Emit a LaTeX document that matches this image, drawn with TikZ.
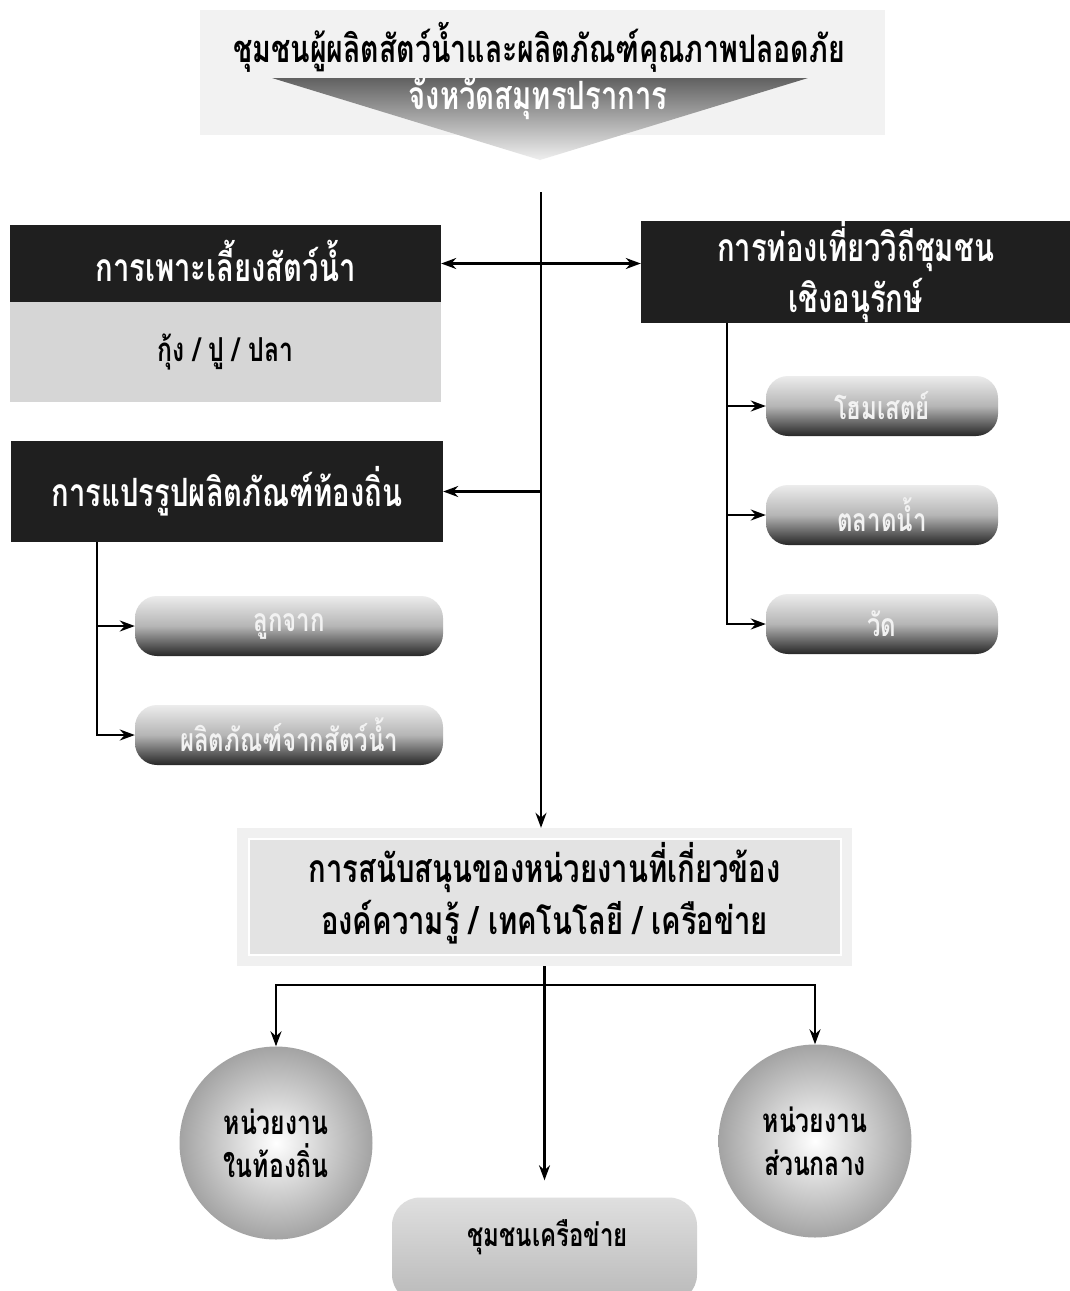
\documentclass[tikz,border=0pt]{standalone}
\usepackage{fontspec}
\newfontfamily\thf[Script=Thai,FakeStretch=0.75]{Loma}
\usetikzlibrary{arrows.meta}
\begin{document}
\begin{tikzpicture}[x=1pt,y=-1pt,
  conn/.style={line width=2.2pt,black},
  arr/.style={conn,-{Stealth[length=15pt,width=11pt]}},
  darr/.style={conn,{Stealth[length=15pt,width=11pt]}-{Stealth[length=15pt,width=11pt]}},
  blk/.style={fill=black!88,text=white,font=\thf\bfseries\fontsize{39}{51}\selectfont,align=center,inner sep=0pt},
  pill/.style={rounded corners=22pt,top color=gray!15,bottom color=black!85,middle color=gray!58,
    text=white!90!gray,font=\thf\bfseries\fontsize{32}{36}\selectfont,inner sep=0pt,
    minimum height=60pt},
  ball/.style={circle,inner sep=0pt,minimum size=193pt,inner color=white,outer color=gray!72,
    font=\thf\bfseries\fontsize{33}{43}\selectfont,align=center}]
\useasboundingbox (0,0) rectangle (1070,1291);
\fill[white] (0,0) rectangle (1070,1291);

% title banner
\node[fill=gray!10,minimum width=685pt,minimum height=125pt,inner sep=0pt] (ban) at (542,72) {};
\shade[top color=black!62,bottom color=gray!12] (272,78) -- (808,78) -- (540,160) -- cycle;
\node[font=\thf\bfseries\fontsize{38}{44}\selectfont] (title) at (539,47) {ชุมชนผู้ผลิตสัตว์น้ำและผลิตภัณฑ์คุณภาพปลอดภัย};
\node[text=white,font=\thf\bfseries\fontsize{39}{44}\selectfont] (sub) at (538,99) {จังหวัดสมุทรปราการ};
\coordinate (top) at (541,192);

% left: aquaculture
\node[blk,minimum width=431pt,minimum height=77pt] (aqua) at (225.5,263.5) {\raisebox{5pt}{การเพาะเลี้ยงสัตว์น้ำ}};
\node[fill=gray!32,minimum width=431pt,minimum height=100pt,inner sep=0pt,
  font=\thf\bfseries\fontsize{33}{38}\selectfont] (aquab) at (225.5,352) {กุ้ง / ปู / ปลา};

% right: tourism
\node[blk,minimum width=429pt,minimum height=100pt] (tour) at (855.5,272) {การท่องเที่ยววิถีชุมชน\\เชิงอนุรักษ์};

% left: processing
\node[blk,minimum width=432pt,minimum height=101pt] (proc) at (227,491.5) {\raisebox{4pt}{การแปรรูปผลิตภัณฑ์ท้องถิ่น}};

% right pills
\node[pill,minimum width=232pt] (home) at (882,406) {โฮมเสตย์};
\node[pill,minimum width=232pt] (market) at (882,515) {ตลาดน้ำ};
\node[pill,minimum width=232pt] (temple) at (882,624) {วัด};

% left pills
\node[pill,minimum width=308pt] (luk) at (289,626) {ลูกจาก};
\node[pill,minimum width=308pt] (prod) at (289,735) {ผลิตภัณฑ์จากสัตว์น้ำ};

% support box
\node[fill=gray!12,minimum width=615pt,minimum height=138pt,inner sep=0pt] (sup) at (544.5,897) {};
\draw[white,line width=2.5pt,fill=gray!22] (249,839) rectangle (841,955);
\node[font=\thf\bfseries\fontsize{39}{52}\selectfont,align=center] (suptxt) at (544.5,893)
  {การสนับสนุนของหน่วยงานที่เกี่ยวข้อง\\องค์ความรู้ / เทคโนโลยี / เครือข่าย};

% bottom
\node[ball] (local) at (276,1143) {หน่วยงาน\\ในท้องถิ่น};
\node[ball] (central) at (815,1141) {หน่วยงาน\\ส่วนกลาง};
\node[rounded corners=28pt,top color=gray!25,bottom color=gray!55,minimum width=305pt,minimum height=105pt,
  inner sep=0pt] (net) at (544.5,1250) {};
\node[font=\thf\bfseries\fontsize{32}{36}\selectfont] (nettxt) at (547.5,1237) {ชุมชนเครือข่าย};
\coordinate (hb) at (544.5,985);

% connectors
\draw[arr] (top) -- (top |- sup.north);
\draw[darr] (aqua.east) -- (aqua.east -| tour.west);
\draw[arr] (top |- proc.east) -- (proc.east);
\coordinate (rb) at ([xshift=86pt]tour.south west);
\draw[arr] (rb) |- (home.west);
\draw[arr] (rb) |- (market.west);
\draw[arr] (rb) |- (temple.west);
\coordinate (lb) at ([xshift=86pt]proc.south west);
\draw[arr] (lb) |- (luk.west);
\draw[arr] (lb) |- (prod.west);
\draw[arr] (sup.south) -- ([yshift=17pt]net.north);
\draw[arr] (hb) -| (local.north);
\draw[arr] (hb) -| (central.north);
\end{tikzpicture}
\end{document}
